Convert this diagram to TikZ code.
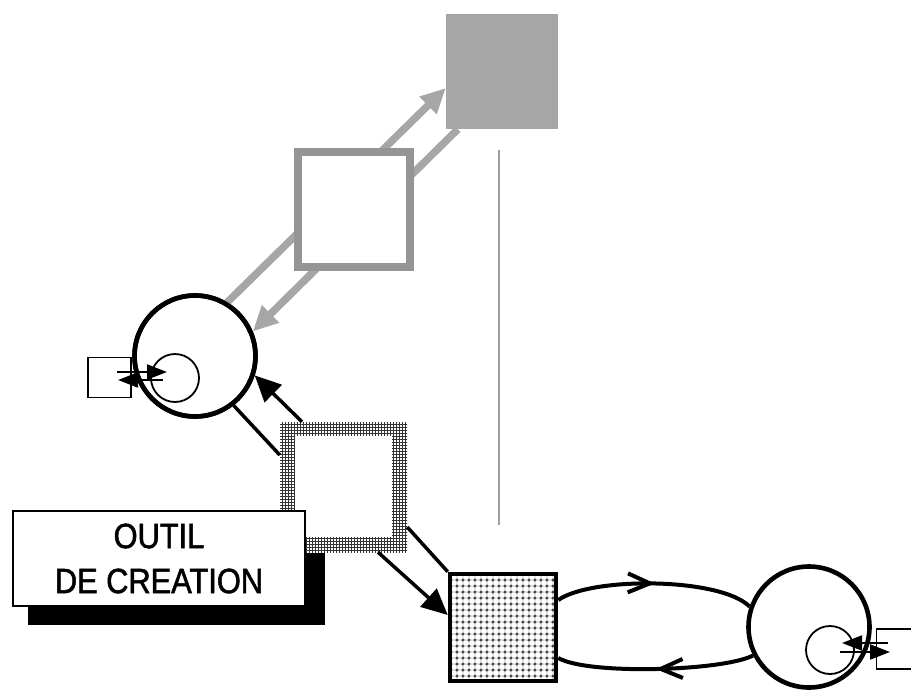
\documentclass[tikz,border=0pt]{standalone}
\usepackage{fontspec}
\newfontfamily\etroite{Liberation Sans}[FakeStretch=0.88, FakeBold=1.5]
\usetikzlibrary{positioning,arrows.meta,patterns,patterns.meta,decorations.markings}
\definecolor{grisplein}{HTML}{A6A6A6}
\definecolor{grisbord}{HTML}{959595}
\definecolor{grisfil}{HTML}{A0A0A0}
\tikzdeclarepattern{
  name=pointille, type=colored,
  bottom left={(0pt,0pt)}, top right={(6.4pt,6.4pt)}, tile size={(6.4pt,6.4pt)},
  code={\draw[black!25, line width=.7pt] (0pt,3.2pt) -- (6.4pt,3.2pt) (3.2pt,0pt) -- (3.2pt,6.4pt);
        \fill[black!72] (3.2pt,3.2pt) circle (1.8pt);}}
\tikzset{
  place/.style   = {circle, draw, line width=4.6pt, minimum size=121pt, inner sep=0pt},
  boucle/.style  = {circle, draw, line width=1.8pt, minimum size=48pt, inner sep=0pt},
  port/.style    = {rectangle, draw, line width=1.8pt, minimum width=43pt, minimum height=40pt, inner sep=0pt},
  stock/.style   = {rectangle, fill=grisplein, minimum width=112pt, minimum height=115pt, inner sep=0pt},
  editeur/.style = {rectangle, draw=grisbord, fill=white, line width=8pt, minimum width=112pt,
                    minimum height=115pt, inner sep=0pt},
  outil/.style   = {rectangle, pattern=grid, pattern color=black!80, minimum width=127pt,
                    minimum height=130pt, inner sep=0pt},
  creux/.style   = {rectangle, fill=white, minimum width=97pt, minimum height=101pt, inner sep=0pt},
  carre/.style   = {rectangle, draw, line width=4.5pt, pattern=pointille, minimum width=106pt,
                    minimum height=107pt, inner sep=0pt},
  boite/.style   = {rectangle, draw, fill=white, line width=2pt, minimum width=292pt, minimum height=95pt,
                    align=center, font=\etroite\fontsize{35}{45}\selectfont},
  lien/.style    = {line width=3.5pt},
  fleche/.style  = {lien, -{Triangle[length=26pt,width=24pt]}},
  petite/.style  = {line width=2pt, -{Triangle[length=20pt,width=15pt]}},
  grise/.style   = {draw=grisplein, line width=7.5pt, -{Triangle[length=25pt,width=23pt]}},
  retour/.style  = {line width=4pt, postaction={decorate}, decoration={markings,
                    mark=at position .5 with {\arrow{Straight Barb[length=22pt,width=19pt]}}}},
}
\begin{document}
\begin{tikzpicture}[x=1pt, y=1pt]
  \useasboundingbox (0,0) rectangle (911,-691);

  % haut : stock et editeur
  \node[place] (cercleA) at (195,-356) {};
  \node[stock] (stock) at (502,-71.5) {};
  \draw[grise] (cercleA.59) -- ([yshift=-16.5pt]stock.west);
  \draw[grise] ([xshift=12pt]stock.south west) -- (cercleA.23);
  \node[editeur] (editeur) at (354,-209.5) {};
  \node[place] at (cercleA) {};

  \coordinate (sepHaut) at (499,-150);
  \coordinate (sepBas) at (499,-525);
  \draw[grisfil, line width=2pt] (sepHaut) -- (sepBas);

  % place de gauche
  \node[boucle] (boucleA) at (175,-378) {};
  \node[port] (portA) at (109.5,-377.5) {};
  \draw[petite] ([xshift=7.5pt,yshift=5.5pt]portA.center) -- ([xshift=-8pt,yshift=6pt]boucleA.center);
  \draw[petite] ([xshift=-12pt,yshift=-2pt]boucleA.center) -- ([xshift=8.5pt,yshift=-2.5pt]portA.center);

  % outil de creation
  \fill (28,-553) rectangle (325,-625);
  \node[outil] (outil) at (343.5,-487) {};
  \node[creux] (outilcreux) at (343.5,-486.5) {};
  \node[boite] (boite) at (159,-558.5) {\raisebox{-4pt}{OUTIL}\\\raisebox{-4pt}{DE CREATION}};

  \draw[fleche] ([xshift=-41.5pt]outil.north) -- (cercleA.-18);
  \draw[lien] (cercleA.-52) -- ([yshift=32pt]outil.west);

  % bas : carre et place de droite
  \node[carre] (carre) at (503,-627.5) {};
  \node[place] (cercleB) at (809,-627) {};
  \draw[lien] ([yshift=-40pt]outil.east) -- (carre.north west);
  \draw[fleche] ([xshift=34.5pt]outil.south) -- ([yshift=12.5pt]carre.west);

  \draw[retour] ([yshift=27.5pt]carre.east) to[out=35, in=135, looseness=.55] (cercleB.161);
  \draw[retour] (cercleB.207) to[out=207, in=-30, looseness=.45] ([yshift=-30.5pt]carre.east);

  \node[boucle] (boucleB) at (830,-650) {};
  \node[port] (portB) at (898,-649) {};
  \draw[petite] ([xshift=12pt,yshift=6pt]portB.west) -- ([xshift=12pt,yshift=7pt]boucleB.center);
  \draw[petite] ([xshift=10pt,yshift=-2pt]boucleB.center) -- ([xshift=-8pt,yshift=-3pt]portB.center);
\end{tikzpicture}
\end{document}
